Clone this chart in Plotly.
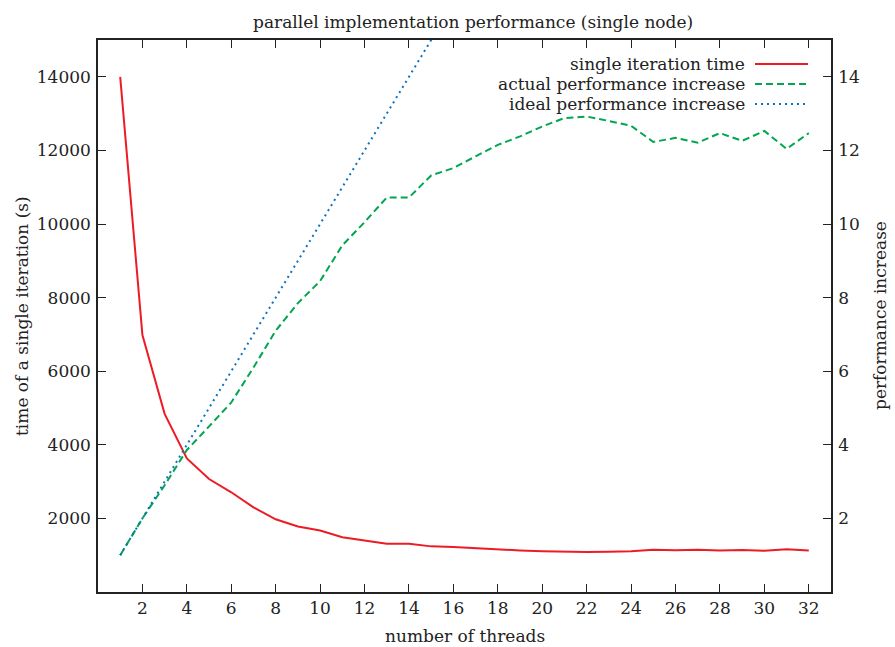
import plotly.graph_objects as go

threads = list(range(1, 33))
iteration_time = [14000, 6980, 4840, 3630, 3070, 2710, 2300, 1975, 1780, 1670,
                  1490, 1395, 1310, 1310, 1240, 1220, 1185, 1155, 1130, 1110,
                  1090, 1085, 1095, 1105, 1145, 1135, 1148, 1125, 1140, 1120,
                  1163, 1125]
actual_speedup = [1.0, 2.0, 2.9, 3.86, 4.5, 5.15, 6.1, 7.1, 7.85, 8.45,
                  9.42, 10.05, 10.72, 10.72, 11.32, 11.52, 11.84, 12.15, 12.38, 12.65,
                  12.88, 12.92, 12.8, 12.67, 12.23, 12.34, 12.21, 12.47, 12.26, 12.53,
                  12.04, 12.47]
ideal_speedup = [1, 2, 3, 4, 5, 6, 7, 8, 9, 10, 11, 12, 13, 14, 15, 16,
                 17, 18, 19, 20, 21, 22, 23, 24, 25, 26, 27, 28, 29, 30, 31, 32]
series_names = ["single iteration time", "actual performance increase",
                "ideal performance increase"]
x_ticks = list(range(2, 33, 2))
y_left_ticks = list(range(2000, 14001, 2000))
y_right_ticks = list(range(2, 15, 2))

RED = "#ed1c24"
GREEN = "#00a650"
BLUE = "#0a72c0"
FONT = "DejaVu Serif"
FS = 17
TXT = "#222222"

W, H = 895, 647
L, R, T, B = 98, 831, 40, 592

fig = go.Figure()
fig.add_trace(go.Scatter(x=threads, y=iteration_time, mode="lines", name=series_names[0],
                         line=dict(color=RED, width=2), yaxis="y"))
fig.add_trace(go.Scatter(x=threads, y=actual_speedup, mode="lines", name=series_names[1],
                         line=dict(color=GREEN, width=2, dash="7px,4px"), yaxis="y2"))
fig.add_trace(go.Scatter(x=threads, y=ideal_speedup, mode="lines", name=series_names[2],
                         line=dict(color=BLUE, width=2, dash="2px,4px"), yaxis="y2"))

axis_common = dict(showgrid=False, zeroline=False, showline=True, linecolor="#222222",
                   linewidth=1.5, ticks="inside", ticklen=8, tickwidth=1.2,
                   tickcolor="#222222", automargin=False, tickformat="d",
                   tickfont=dict(family=FONT, size=FS, color=TXT))

fig.update_layout(
    width=W, height=H,
    margin=dict(l=L, r=W - R, t=T, b=H - B, pad=0),
    paper_bgcolor="white", plot_bgcolor="white",
    showlegend=False,
    xaxis=dict(range=[0, 33], tickvals=x_ticks, mirror="ticks", **axis_common),
    yaxis=dict(range=[0, 15000], tickvals=y_left_ticks, ticklabelstandoff=2, **axis_common),
    yaxis2=dict(range=[0, 15], tickvals=y_right_ticks, overlaying="y", side="right",
                ticklabelstandoff=2, **axis_common),
)

def px_x(p):
    return (p - L) / (R - L)

def px_y(p):
    return 1 - (p - T) / (B - T)

tfont = dict(family=FONT, size=FS, color=TXT)
fig.add_annotation(text="parallel implementation performance (single node)",
                   xref="paper", yref="paper", x=px_x(473), y=px_y(22),
                   xanchor="center", yanchor="middle", showarrow=False, font=tfont)
fig.add_annotation(text="number of threads", xref="paper", yref="paper",
                   x=px_x(465), y=px_y(636), xanchor="center", yanchor="middle",
                   showarrow=False, font=tfont)
fig.add_annotation(text="time of a single iteration (s)", xref="paper", yref="paper",
                   x=px_x(22), y=px_y(316), xanchor="center", yanchor="middle",
                   textangle=-90, showarrow=False, font=tfont)
fig.add_annotation(text="performance increase", xref="paper", yref="paper",
                   x=px_x(880), y=px_y(316), xanchor="center", yanchor="middle",
                   textangle=-90, showarrow=False, font=tfont)

# legend (text on the left, line sample on the right)
colors = [RED, GREEN, BLUE]
dashes = ["solid", "7px,4px", "2px,4px"]
rows = [64, 84, 104]
for name, c, d, yp in zip(series_names, colors, dashes, rows):
    yf = px_y(yp)
    fig.add_annotation(text=name, xref="paper", yref="paper",
                       x=px_x(746), y=yf, xanchor="right", yanchor="middle",
                       showarrow=False, font=tfont, borderpad=0)
    fig.add_shape(type="line", xref="paper", yref="paper",
                  x0=px_x(755), x1=px_x(808), y0=yf, y1=yf,
                  line=dict(color=c, width=2, dash=d))

fig.write_html("out.html", config={"displayModeBar": False},
               post_script="document.body.style.margin='0';document.body.style.padding='0';")
